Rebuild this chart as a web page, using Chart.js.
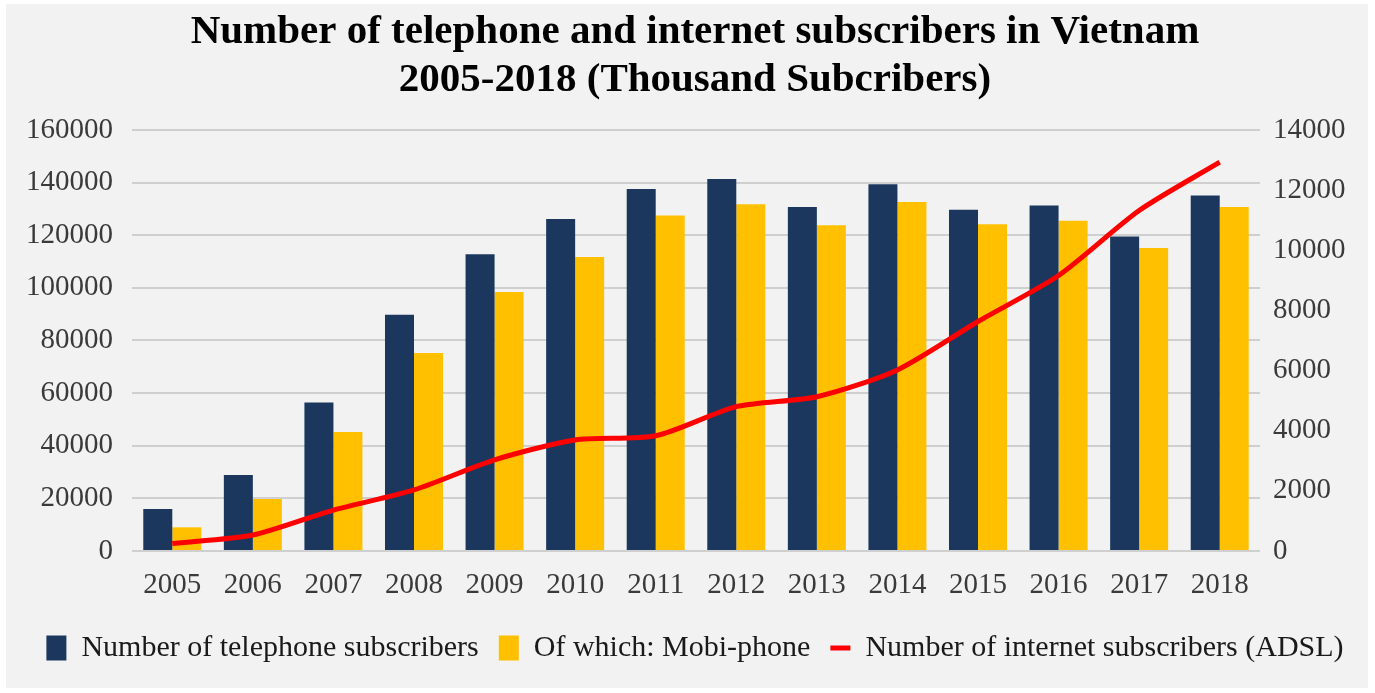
<!DOCTYPE html>
<html>
<head>
<meta charset="utf-8">
<script src="https://cdn.jsdelivr.net/npm/chart.js@4"></script>
<style>
  html, body { margin: 0; padding: 0; background: #ffffff; }
  #wrap {
    position: absolute;
    left: 6px;
    top: 4px;
    width: 1362px;
    height: 684px;
    background: #f2f2f2;
  }
</style>
</head>
<body>
<div id="wrap"><canvas id="myChart" width="1362" height="684"></canvas></div>
<script>
const years = ["2005", "2006", "2007", "2008", "2009", "2010", "2011",
  "2012", "2013", "2014", "2015", "2016", "2017", "2018"];
const telephoneSubs = [16000, 28900, 56400, 89800, 112800, 126200, 137600,
  141400, 130700, 139400, 129700, 131300, 119500, 135100];
const mobileSubs = [9000, 19800, 45200, 75200, 98400, 111700, 127500,
  131800, 123800, 132600, 124200, 125500, 115100, 130700];
const internetSubs = [250, 530, 1360, 2030, 3030, 3690, 3830,
  4800, 5130, 6020, 7630, 9160, 11320, 12930];
const titleLines = [
  "Number of telephone and internet subscribers in Vietnam",
  "2005-2018 (Thousand Subcribers)",
];

const serif = "'Liberation Serif', 'Times New Roman', serif";
const tickColor = "#3a3a3a";
const plainNumber = (value) => String(value);

const ctx = document.getElementById("myChart").getContext("2d");
const myChart = new Chart(ctx, {
  type: "bar",
  data: {
    labels: years,
    datasets: [
      {
        type: "line",
        label: "Number of internet subscribers (ADSL)",
        data: internetSubs,
        yAxisID: "y1",
        borderColor: "#ff0000",
        backgroundColor: "#ff0000",
        borderWidth: 5,
        pointRadius: 0,
        pointStyle: "line",
        tension: 0.25,
        order: 0,
      },
      {
        label: "Number of telephone subscribers",
        data: telephoneSubs,
        backgroundColor: "#1b375e",
        borderWidth: 0,
        pointStyle: "rect",
        categoryPercentage: 0.72,
        barPercentage: 1.0,
        order: 1,
      },
      {
        label: "Of which: Mobi-phone",
        data: mobileSubs,
        backgroundColor: "#ffc000",
        borderWidth: 0,
        pointStyle: "rect",
        categoryPercentage: 0.72,
        barPercentage: 1.0,
        order: 1,
      },
    ],
  },
  options: {
    responsive: false,
    animation: false,
    layout: {
      padding: { left: 16, right: 0, top: 0, bottom: 15 },
    },
    plugins: {
      title: {
        display: true,
        text: titleLines,
        color: "#000000",
        font: { family: serif, size: 41, weight: "bold", lineHeight: 1.17 },
        padding: { top: 4, bottom: 26 },
      },
      legend: {
        position: "bottom",
        labels: {
          // line entry goes last, like the reference
          sort: (a, b) => {
            const rank = (i) => (i.datasetIndex === 0 ? 2 : i.datasetIndex - 1);
            return rank(a) - rank(b);
          },
          usePointStyle: true,
          pointStyleWidth: 20,
          boxHeight: 25,
          color: "#1a1a1a",
          padding: 20,
          font: { family: serif, size: 30 },
        },
      },
      tooltip: { enabled: false },
    },
    scales: {
      x: {
        grid: { display: false, drawTicks: false },
        border: { display: false },
        ticks: {
          color: tickColor,
          padding: 17,
          maxRotation: 0,
          font: { family: serif, size: 29 },
        },
        afterFit: (scale) => {
          scale.height = 62;
        },
      },
      y: {
        position: "left",
        min: 0,
        max: 160000,
        grid: { color: "#cfcfcf", lineWidth: 2, drawTicks: false },
        border: { display: false },
        ticks: {
          stepSize: 20000,
          color: tickColor,
          padding: 19,
          callback: plainNumber,
          font: { family: serif, size: 29 },
        },
        afterFit: (scale) => {
          scale.width = 110;
        },
      },
      y1: {
        position: "right",
        min: 0,
        max: 14000,
        grid: { display: false, drawTicks: false },
        border: { display: false },
        ticks: {
          stepSize: 2000,
          color: tickColor,
          padding: 13,
          callback: plainNumber,
          font: { family: serif, size: 29 },
        },
        afterFit: (scale) => {
          scale.width = 108;
        },
      },
    },
  },
});
</script>
</body>
</html>
